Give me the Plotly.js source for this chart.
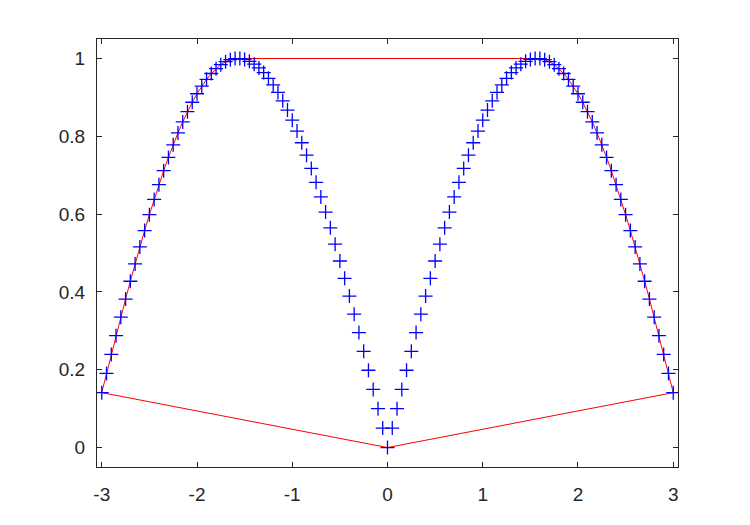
<!DOCTYPE html>
<html>
<head>
<meta charset="utf-8">
<script src="https://cdn.plot.ly/plotly-3.0.1.min.js"></script>
<style>html,body{margin:0;padding:0;background:#fff;}#chart{width:750px;height:525px;}</style>
</head>
<body>
<div id="chart"></div>
<script>
const xPts = [-3,-2.95,-2.9,-2.85,-2.8,-2.75,-2.7,-2.65,-2.6,-2.55,-2.5,-2.45,-2.4,-2.35,-2.3,-2.25,-2.2,-2.15,-2.1,-2.05,-2,-1.95,-1.9,-1.85,-1.8,-1.75,-1.7,-1.65,-1.6,-1.55,-1.5,-1.45,-1.4,-1.35,-1.3,-1.25,-1.2,-1.15,-1.1,-1.05,-1,-0.95,-0.9,-0.85,-0.8,-0.75,-0.7,-0.65,-0.6,-0.55,-0.5,-0.45,-0.4,-0.35,-0.3,-0.25,-0.2,-0.15,-0.1,-0.05,0,0.05,0.1,0.15,0.2,0.25,0.3,0.35,0.4,0.45,0.5,0.55,0.6,0.65,0.7,0.75,0.8,0.85,0.9,0.95,1,1.05,1.1,1.15,1.2,1.25,1.3,1.35,1.4,1.45,1.5,1.55,1.6,1.65,1.7,1.75,1.8,1.85,1.9,1.95,2,2.05,2.1,2.15,2.2,2.25,2.3,2.35,2.4,2.45,2.5,2.55,2.6,2.65,2.7,2.75,2.8,2.85,2.9,2.95,3];
const yPts = [0.1411,0.1904,0.2392,0.2875,0.3350,0.3817,0.4274,0.4720,0.5155,0.5577,0.5985,0.6378,0.6755,0.7115,0.7457,0.7781,0.8085,0.8369,0.8632,0.8874,0.9093,0.9290,0.9463,0.9613,0.9738,0.9840,0.9917,0.9969,0.9996,0.9998,0.9975,0.9927,0.9854,0.9757,0.9636,0.9490,0.9320,0.9128,0.8912,0.8674,0.8415,0.8134,0.7833,0.7513,0.7174,0.6816,0.6442,0.6052,0.5646,0.5227,0.4794,0.4350,0.3894,0.3429,0.2955,0.2474,0.1987,0.1494,0.0998,0.0500,
0,0.0500,0.0998,0.1494,0.1987,0.2474,0.2955,0.3429,0.3894,0.4350,0.4794,0.5227,0.5646,0.6052,0.6442,0.6816,0.7174,0.7513,0.7833,0.8134,0.8415,0.8674,0.8912,0.9128,0.9320,0.9490,0.9636,0.9757,0.9854,0.9927,0.9975,0.9998,0.9996,0.9969,0.9917,0.9840,0.9738,0.9613,0.9463,0.9290,0.9093,0.8874,0.8632,0.8369,0.8085,0.7781,0.7457,0.7115,0.6755,0.6378,0.5985,0.5577,0.5155,0.4720,0.4274,0.3817,0.3350,0.2875,0.2392,0.1904,0.1411];
const hullX = [-3,0,3,2.95,2.9,2.85,2.8,2.75,2.7,2.65,2.6,2.55,2.5,2.45,2.4,2.35,2.3,2.25,2.2,2.15,2.1,2.05,2,1.95,1.9,1.85,1.8,1.75,1.7,1.65,1.6,1.55,
-1.55,-1.6,-1.65,-1.7,-1.75,-1.8,-1.85,-1.9,-1.95,-2,-2.05,-2.1,-2.15,-2.2,-2.25,-2.3,-2.35,-2.4,-2.45,-2.5,-2.55,-2.6,-2.65,-2.7,-2.75,-2.8,-2.85,-2.9,-2.95,-3];
const hullY = [0.1411,0,0.1411,0.1904,0.2392,0.2875,0.3350,0.3817,0.4274,0.4720,0.5155,0.5577,0.5985,0.6378,0.6755,0.7115,0.7457,0.7781,0.8085,0.8369,0.8632,0.8874,0.9093,0.9290,0.9463,0.9613,0.9738,0.9840,0.9917,0.9969,0.9996,0.9998,
0.9998,0.9996,0.9969,0.9917,0.9840,0.9738,0.9613,0.9463,0.9290,0.9093,0.8874,0.8632,0.8369,0.8085,0.7781,0.7457,0.7115,0.6755,0.6378,0.5985,0.5577,0.5155,0.4720,0.4274,0.3817,0.3350,0.2875,0.2392,0.1904,0.1411];
const xTicks = [-3,-2,-1,0,1,2,3];
const yTicks = [0,0.2,0.4,0.6,0.8,1];
const yTickText = ['0','0.2','0.4','0.6','0.8','1'];

const traces = [
  {x: hullX, y: hullY, type: 'scatter', mode: 'lines',
   line: {color: '#ff0000', width: 1}, hoverinfo: 'skip'},
  {x: xPts, y: yPts, type: 'scatter', mode: 'markers',
   marker: {symbol: 'cross-thin', size: 10, line: {color: '#0000ff', width: 1.3}, color: '#0000ff'}}
];
const axisCommon = {
  showgrid: false, zeroline: false, showline: true, linecolor: '#262626', linewidth: 1,
  mirror: 'ticks', ticks: 'inside', ticklen: 5, tickcolor: '#262626', tickwidth: 1,
  tickfont: {family: 'Liberation Sans, Arial, sans-serif', size: 19, color: '#262626'}
};
const layout = {
  width: 750, height: 525,
  margin: {l: 97, r: 72, t: 39, b: 58},
  showlegend: false,
  paper_bgcolor: '#ffffff', plot_bgcolor: '#ffffff',
  xaxis: Object.assign({}, axisCommon, {range: [-3.05, 3.05], tickmode: 'array', tickvals: xTicks, ticktext: xTicks.map(String), ticklabelstandoff: 10}),
  yaxis: Object.assign({}, axisCommon, {range: [-0.05, 1.05], tickmode: 'array', tickvals: yTicks, ticktext: yTickText, ticklabelstandoff: 7})
};
Plotly.newPlot('chart', traces, layout, {displayModeBar: false, staticPlot: true});
</script>
</body>
</html>
